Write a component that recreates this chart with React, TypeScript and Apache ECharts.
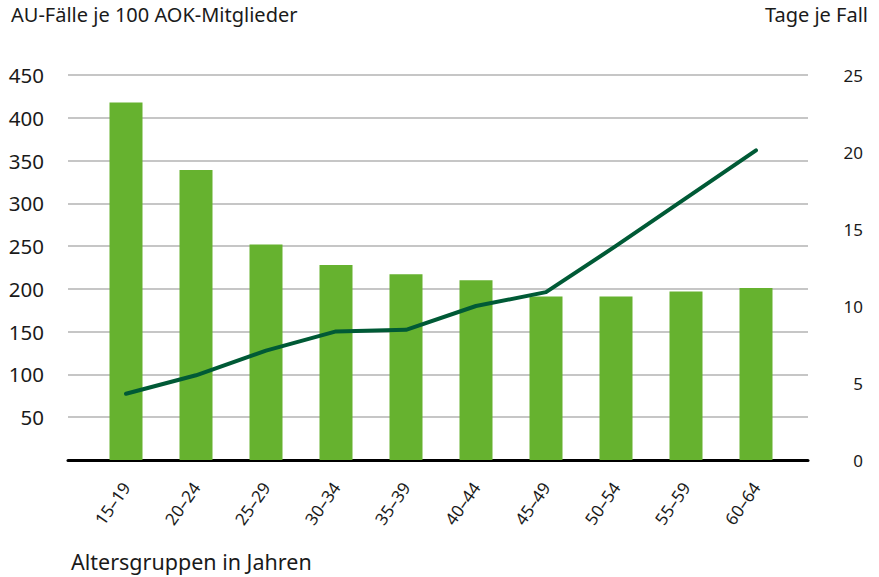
import React, { useEffect, useRef } from "react";
import * as echarts from "echarts";

const categories = ["15–19", "20–24", "25–29", "30–34", "35–39", "40–44", "45–49", "50–54", "55–59", "60–64"];
const auFaelle = [418, 339, 252, 228, 217, 210, 191, 191, 197, 201];
const tageJeFall = [4.3, 5.5, 7.1, 8.35, 8.45, 10.0, 10.9, 13.9, 17.0, 20.1];
const leftTicks = { min: 0, max: 450, interval: 50 };
const rightTicks = { min: 0, max: 25, interval: 5 };

const FONT = "'Noto Sans', 'Open Sans', sans-serif";
const TXT = "#1a1a1a";

export default function App() {
  const ref = useRef<HTMLDivElement>(null);
  useEffect(() => {
    document.body.style.margin = "0";
    if (!ref.current) return;
    const chart = echarts.init(ref.current, undefined, { renderer: "svg" });
    const top = 75;
    const bottom = 117;
    const titleStyle = { fontFamily: FONT, fontSize: 20, fontWeight: "normal", color: TXT };
    chart.setOption({
      animation: false,
      textStyle: { fontFamily: FONT },
      grid: [
        { left: 68, right: 71, top, bottom },
        { left: 91, right: 88, top, bottom },
      ],
      title: [
        { text: "AU-Fälle je 100 AOK-Mitglieder", left: 6, top: -1, textStyle: titleStyle },
        { text: "Tage je Fall", right: 6, top: -1, textStyle: titleStyle },
        { text: "Altersgruppen in Jahren", left: 66, top: 545, textStyle: { ...titleStyle, fontSize: 21.5 } },
      ],
      xAxis: [
        {
          gridIndex: 0,
          type: "category",
          data: categories,
          axisLine: { show: true, lineStyle: { color: "#000", width: 3 } },
          axisTick: { show: false },
          axisLabel: { show: false },
          splitLine: { show: false },
        },
        {
          gridIndex: 1,
          type: "category",
          data: categories,
          axisLine: { show: false },
          axisTick: { show: false },
          axisLabel: { rotate: 55, margin: 24, fontSize: 17, color: TXT, fontFamily: FONT },
        },
      ],
      yAxis: [
        {
          gridIndex: 0,
          type: "value",
          ...leftTicks,
          position: "left",
          axisLine: { show: false },
          axisTick: { show: false },
          axisLabel: { margin: 24, fontSize: 20.5, color: TXT, fontFamily: FONT, formatter: (v: number) => (v === 0 ? "" : String(v)) },
          splitLine: { show: true, lineStyle: { color: "#b3b3b3", width: 1.5 } },
        },
        {
          gridIndex: 0,
          type: "value",
          ...rightTicks,
          position: "right",
          axisLine: { show: false },
          axisTick: { show: false },
          axisLabel: { margin: 55, align: "right", fontSize: 17, color: TXT, fontFamily: FONT },
          splitLine: { show: false },
        },
        { gridIndex: 1, type: "value", ...leftTicks, show: false, splitLine: { show: false } },
        { gridIndex: 1, type: "value", ...rightTicks, show: false, splitLine: { show: false } },
      ],
      series: [
        {
          type: "bar",
          xAxisIndex: 1,
          yAxisIndex: 2,
          data: auFaelle,
          barWidth: 33,
          itemStyle: { color: "#66b22f" },
          z: 1,
        },
        {
          type: "line",
          xAxisIndex: 1,
          yAxisIndex: 3,
          data: tageJeFall,
          symbol: "none",
          lineStyle: { color: "#005a36", width: 4, cap: "round", join: "round" },
          z: 3,
        },
      ],
    });
    return () => chart.dispose();
  }, []);
  return <div ref={ref} style={{ width: 879, height: 577 }} />;
}
